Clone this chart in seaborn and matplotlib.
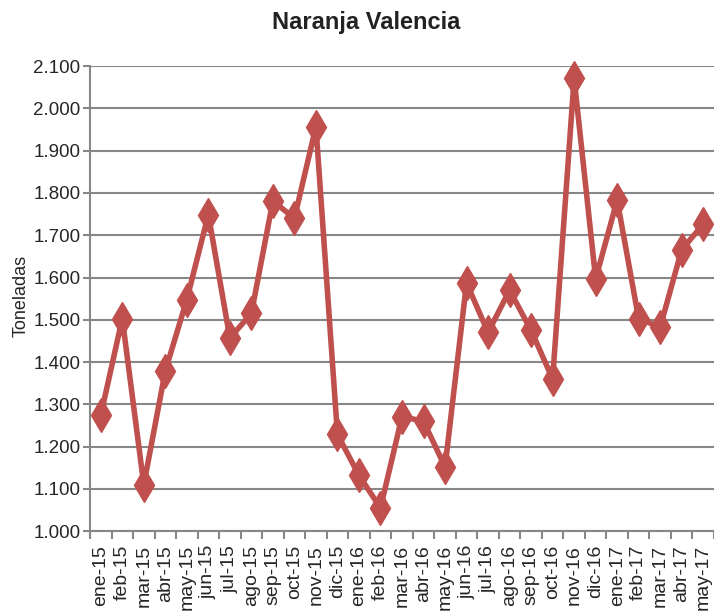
import numpy as np
import pandas as pd
import matplotlib
matplotlib.use('Agg')
import matplotlib.pyplot as plt
import seaborn as sns

# datos
meses = ['ene-15', 'feb-15', 'mar-15', 'abr-15', 'may-15', 'jun-15', 'jul-15',
         'ago-15', 'sep-15', 'oct-15', 'nov-15', 'dic-15', 'ene-16', 'feb-16',
         'mar-16', 'abr-16', 'may-16', 'jun-16', 'jul-16', 'ago-16', 'sep-16',
         'oct-16', 'nov-16', 'dic-16', 'ene-17', 'feb-17', 'mar-17', 'abr-17',
         'may-17']
toneladas = [1274, 1503, 1110, 1379, 1548, 1749, 1457,
             1515, 1781, 1740, 1957, 1229, 1132, 1055,
             1271, 1260, 1152, 1587, 1470, 1570, 1475,
             1360, 2071, 1597, 1783, 1502, 1483, 1666,
             1726]
yticks = list(range(1000, 2101, 100))

df = pd.DataFrame({'mes': meses, 'toneladas': toneladas})

sns.set_style('white')
plt.rcParams['font.family'] = ['Liberation Sans', 'DejaVu Sans']

rojo = '#C0504D'
gris = '#878787'
texto = '#262626'

fig = plt.figure(figsize=(7.14, 6.12), dpi=100)
ax = fig.add_axes([90 / 714, 0.132, 624 / 714, 0.760])

sns.lineplot(data=df, x='mes', y='toneladas', ax=ax, color=rojo, linewidth=4,
             marker='d', markersize=17, markeredgecolor=rojo, markeredgewidth=1,
             clip_on=False, zorder=3)

ax.set_xlim(-0.5, len(meses) - 0.5)
ax.set_ylim(1000, 2100)

# ticks del eje x en los limites de cada categoria
ax.set_xticks(np.arange(len(meses)))
ax.set_xticklabels(meses, rotation=90, fontsize=14, color=texto)
ax.set_xticks(np.arange(-0.5, len(meses), 1), minor=True)
ax.tick_params(axis='x', which='major', length=0, pad=10)
ax.tick_params(axis='x', which='minor', length=6, width=1.5, color=gris, bottom=True)

ax.set_yticks(yticks)
ax.set_yticklabels([f'{v:,}'.replace(',', '.') for v in yticks], fontsize=13.5, color=texto)
ax.tick_params(axis='y', length=5, width=1.5, color=gris, left=True, pad=2)

ax.yaxis.grid(True, color=gris, linewidth=1.5)
ax.set_axisbelow(True)
for s in ['top', 'right']:
    ax.spines[s].set_visible(False)
for s in ['left', 'bottom']:
    ax.spines[s].set_color(gris)
    ax.spines[s].set_linewidth(1.5)

ax.set_xlabel('')
ax.set_ylabel('')
fig.text(21 / 714, 1 - 296 / 612, 'Toneladas', rotation=90, fontsize=13,
         ha='center', va='center', color=texto)
fig.text(366 / 714, 1 - 22 / 612, 'Naranja Valencia', fontsize=17,
         fontweight='bold', ha='center', va='center', color='#222222')

fig.savefig('out.png', dpi=100)
